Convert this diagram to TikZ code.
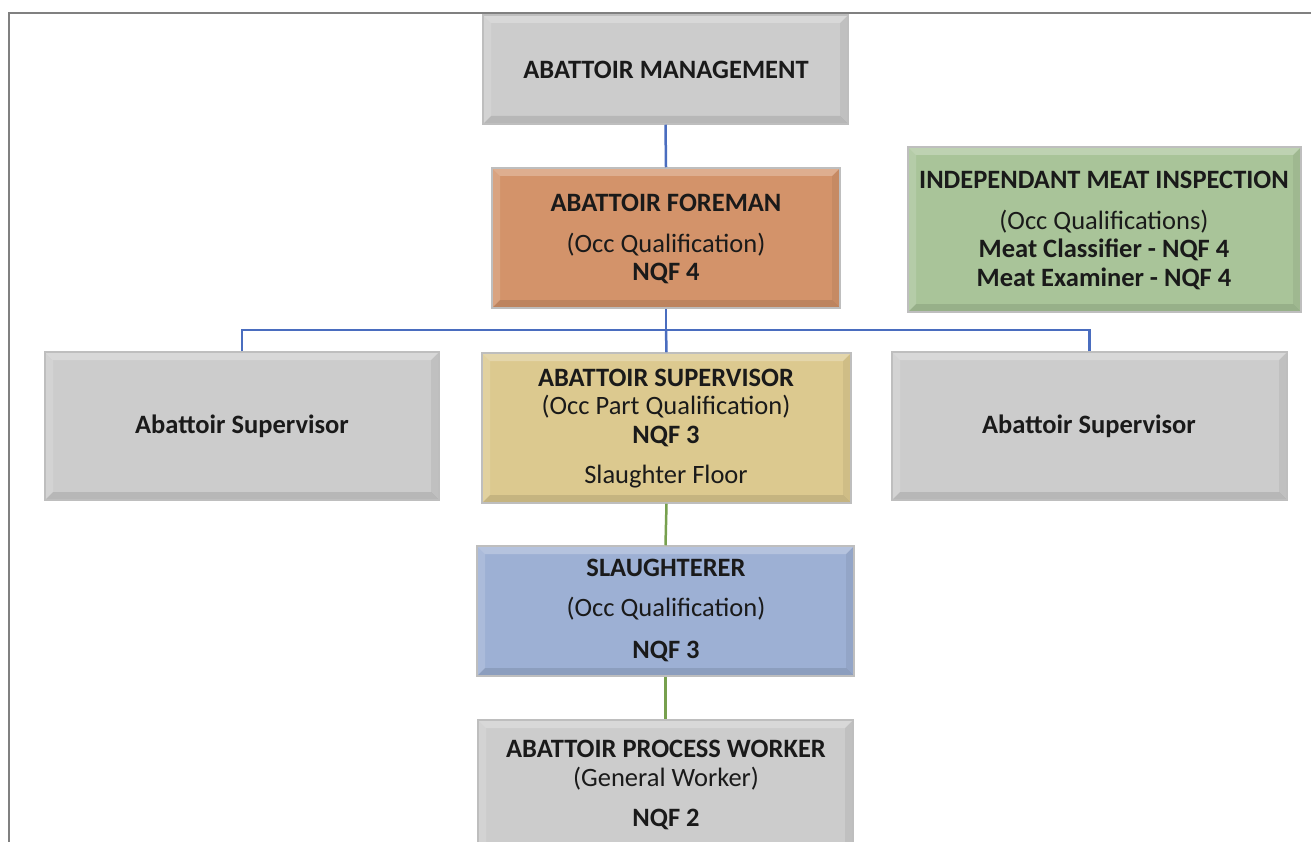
\documentclass[tikz,border=0pt]{standalone}
\usepackage{fontspec}
\setmainfont{Carlito}
\definecolor{frame}{HTML}{808080}
\definecolor{edge}{HTML}{BEBEBE}
\definecolor{greyfill}{HTML}{CCCCCC}
\definecolor{orangefill}{HTML}{D3936A}
\definecolor{greenfill}{HTML}{A9C499}
\definecolor{tanfill}{HTML}{DCC98F}
\definecolor{bluefill}{HTML}{9DB0D4}
\definecolor{blueline}{HTML}{4A6DBF}
\definecolor{greenline}{HTML}{77A04E}
\definecolor{ink}{HTML}{1A1A1A}
\begin{document}
\begin{tikzpicture}[x=1pt,y=-1pt,
  box/.style={draw=edge, line width=1.5pt, inner sep=0pt,
    path picture={
      \fill[white,opacity=0.25] (path picture bounding box.north west) -- (path picture bounding box.north east) -- ([xshift=-8pt,yshift=-8pt]path picture bounding box.north east) -- ([xshift=8pt,yshift=-8pt]path picture bounding box.north west) -- cycle;
      \fill[white,opacity=0.15] (path picture bounding box.north west) -- ([xshift=8pt,yshift=-8pt]path picture bounding box.north west) -- ([xshift=8pt,yshift=8pt]path picture bounding box.south west) -- (path picture bounding box.south west) -- cycle;
      \fill[black,opacity=0.10] (path picture bounding box.south west) -- (path picture bounding box.south east) -- ([xshift=-8pt,yshift=8pt]path picture bounding box.south east) -- ([xshift=8pt,yshift=8pt]path picture bounding box.south west) -- cycle;
      \fill[black,opacity=0.06] (path picture bounding box.north east) -- ([xshift=-8pt,yshift=-8pt]path picture bounding box.north east) -- ([xshift=-8pt,yshift=8pt]path picture bounding box.south east) -- (path picture bounding box.south east) -- cycle;
    }},
  ttl/.style={text=ink, font=\fontsize{26.5}{30}\selectfont\bfseries, inner sep=0pt},
  sub/.style={text=ink, font=\fontsize{26.5}{30}\selectfont, inner sep=0pt},
  bline/.style={draw=blueline, line width=2.5pt},
  gline/.style={draw=greenline, line width=2.5pt}
]
\useasboundingbox (0,0) rectangle (1311,842);
\clip (0,0) rectangle (1311,842);
\fill[white] (0,0) rectangle (1311,842);
% outer frame
\draw[frame, line width=2.5pt] (9,842) -- (9,13) -- (1311,13);

% boxes
\node[box, fill=greyfill, minimum width=365pt, minimum height=109pt] (mgmt) at (665.5,69.5) {};
\node[box, fill=orangefill, minimum width=348pt, minimum height=140pt] (foreman) at (666,238) {};
\node[box, fill=greenfill, minimum width=393pt, minimum height=165pt] (inspect) at (1104.5,229.5) {};
\node[box, fill=greyfill, minimum width=394pt, minimum height=148pt] (supL) at (242,426) {};
\node[box, fill=tanfill, minimum width=369pt, minimum height=150pt] (supC) at (666.5,428) {};
\node[box, fill=greyfill, minimum width=395pt, minimum height=148pt] (supR) at (1089.5,426) {};
\node[box, fill=bluefill, minimum width=377pt, minimum height=130pt] (slaught) at (665.5,611) {};
\node[box, fill=greyfill, minimum width=375pt, minimum height=140pt] (worker) at (665.5,790) {};

% connectors
\coordinate (bus) at (666,330);
\draw[bline] (mgmt.south) -- (foreman.north);
\draw[bline] (foreman.south) -- (bus);
\draw[bline] (supL.north) |- (bus);
\draw[bline] (supR.north) |- (bus);
\draw[bline] (bus) -- (supC.north);
\draw[gline] (supC.south) -- (slaught.north);
\draw[gline] (slaught.south) -- (worker.north);

% texts
\node[ttl] (mgmtT) at (666,70) {ABATTOIR MANAGEMENT};

\node[ttl] (foreT1) at (666,203) {ABATTOIR FOREMAN};
\node[sub] (foreT2) at (666,245) {(Occ Qualification)};
\node[ttl] (foreT3) at (666,273) {NQF 4};

\node[ttl] (inspT1) at (1104,180) {INDEPENDANT MEAT INSPECTION};
\node[sub] (inspT2) at (1104,222) {(Occ Qualifications)};
\node[ttl] (inspT3) at (1104,250) {Meat Classifier - NQF 4};
\node[ttl] (inspT4) at (1104,279) {Meat Examiner - NQF 4};

\node[ttl] (supLT) at (242,426) {Abattoir Supervisor};
\node[ttl] (supRT) at (1089,426) {Abattoir Supervisor};

\node[ttl] (supCT1) at (666,378) {ABATTOIR SUPERVISOR};
\node[sub] (supCT2) at (666,407) {(Occ Part Qualification)};
\node[ttl] (supCT3) at (666,436) {NQF 3};
\node[sub] (supCT4) at (666,477) {Slaughter Floor};

\node[ttl] (slT1) at (666,568) {SLAUGHTERER};
\node[sub] (slT2) at (666,609) {(Occ Qualification)};
\node[ttl] (slT3) at (666,651) {NQF 3};

\node[ttl] (wkT1) at (666,749) {ABATTOIR PROCESS WORKER};
\node[sub] (wkT2) at (666,779) {(General Worker)};
\node[ttl] (wkT3) at (666,819) {NQF 2};
\end{tikzpicture}
\end{document}
